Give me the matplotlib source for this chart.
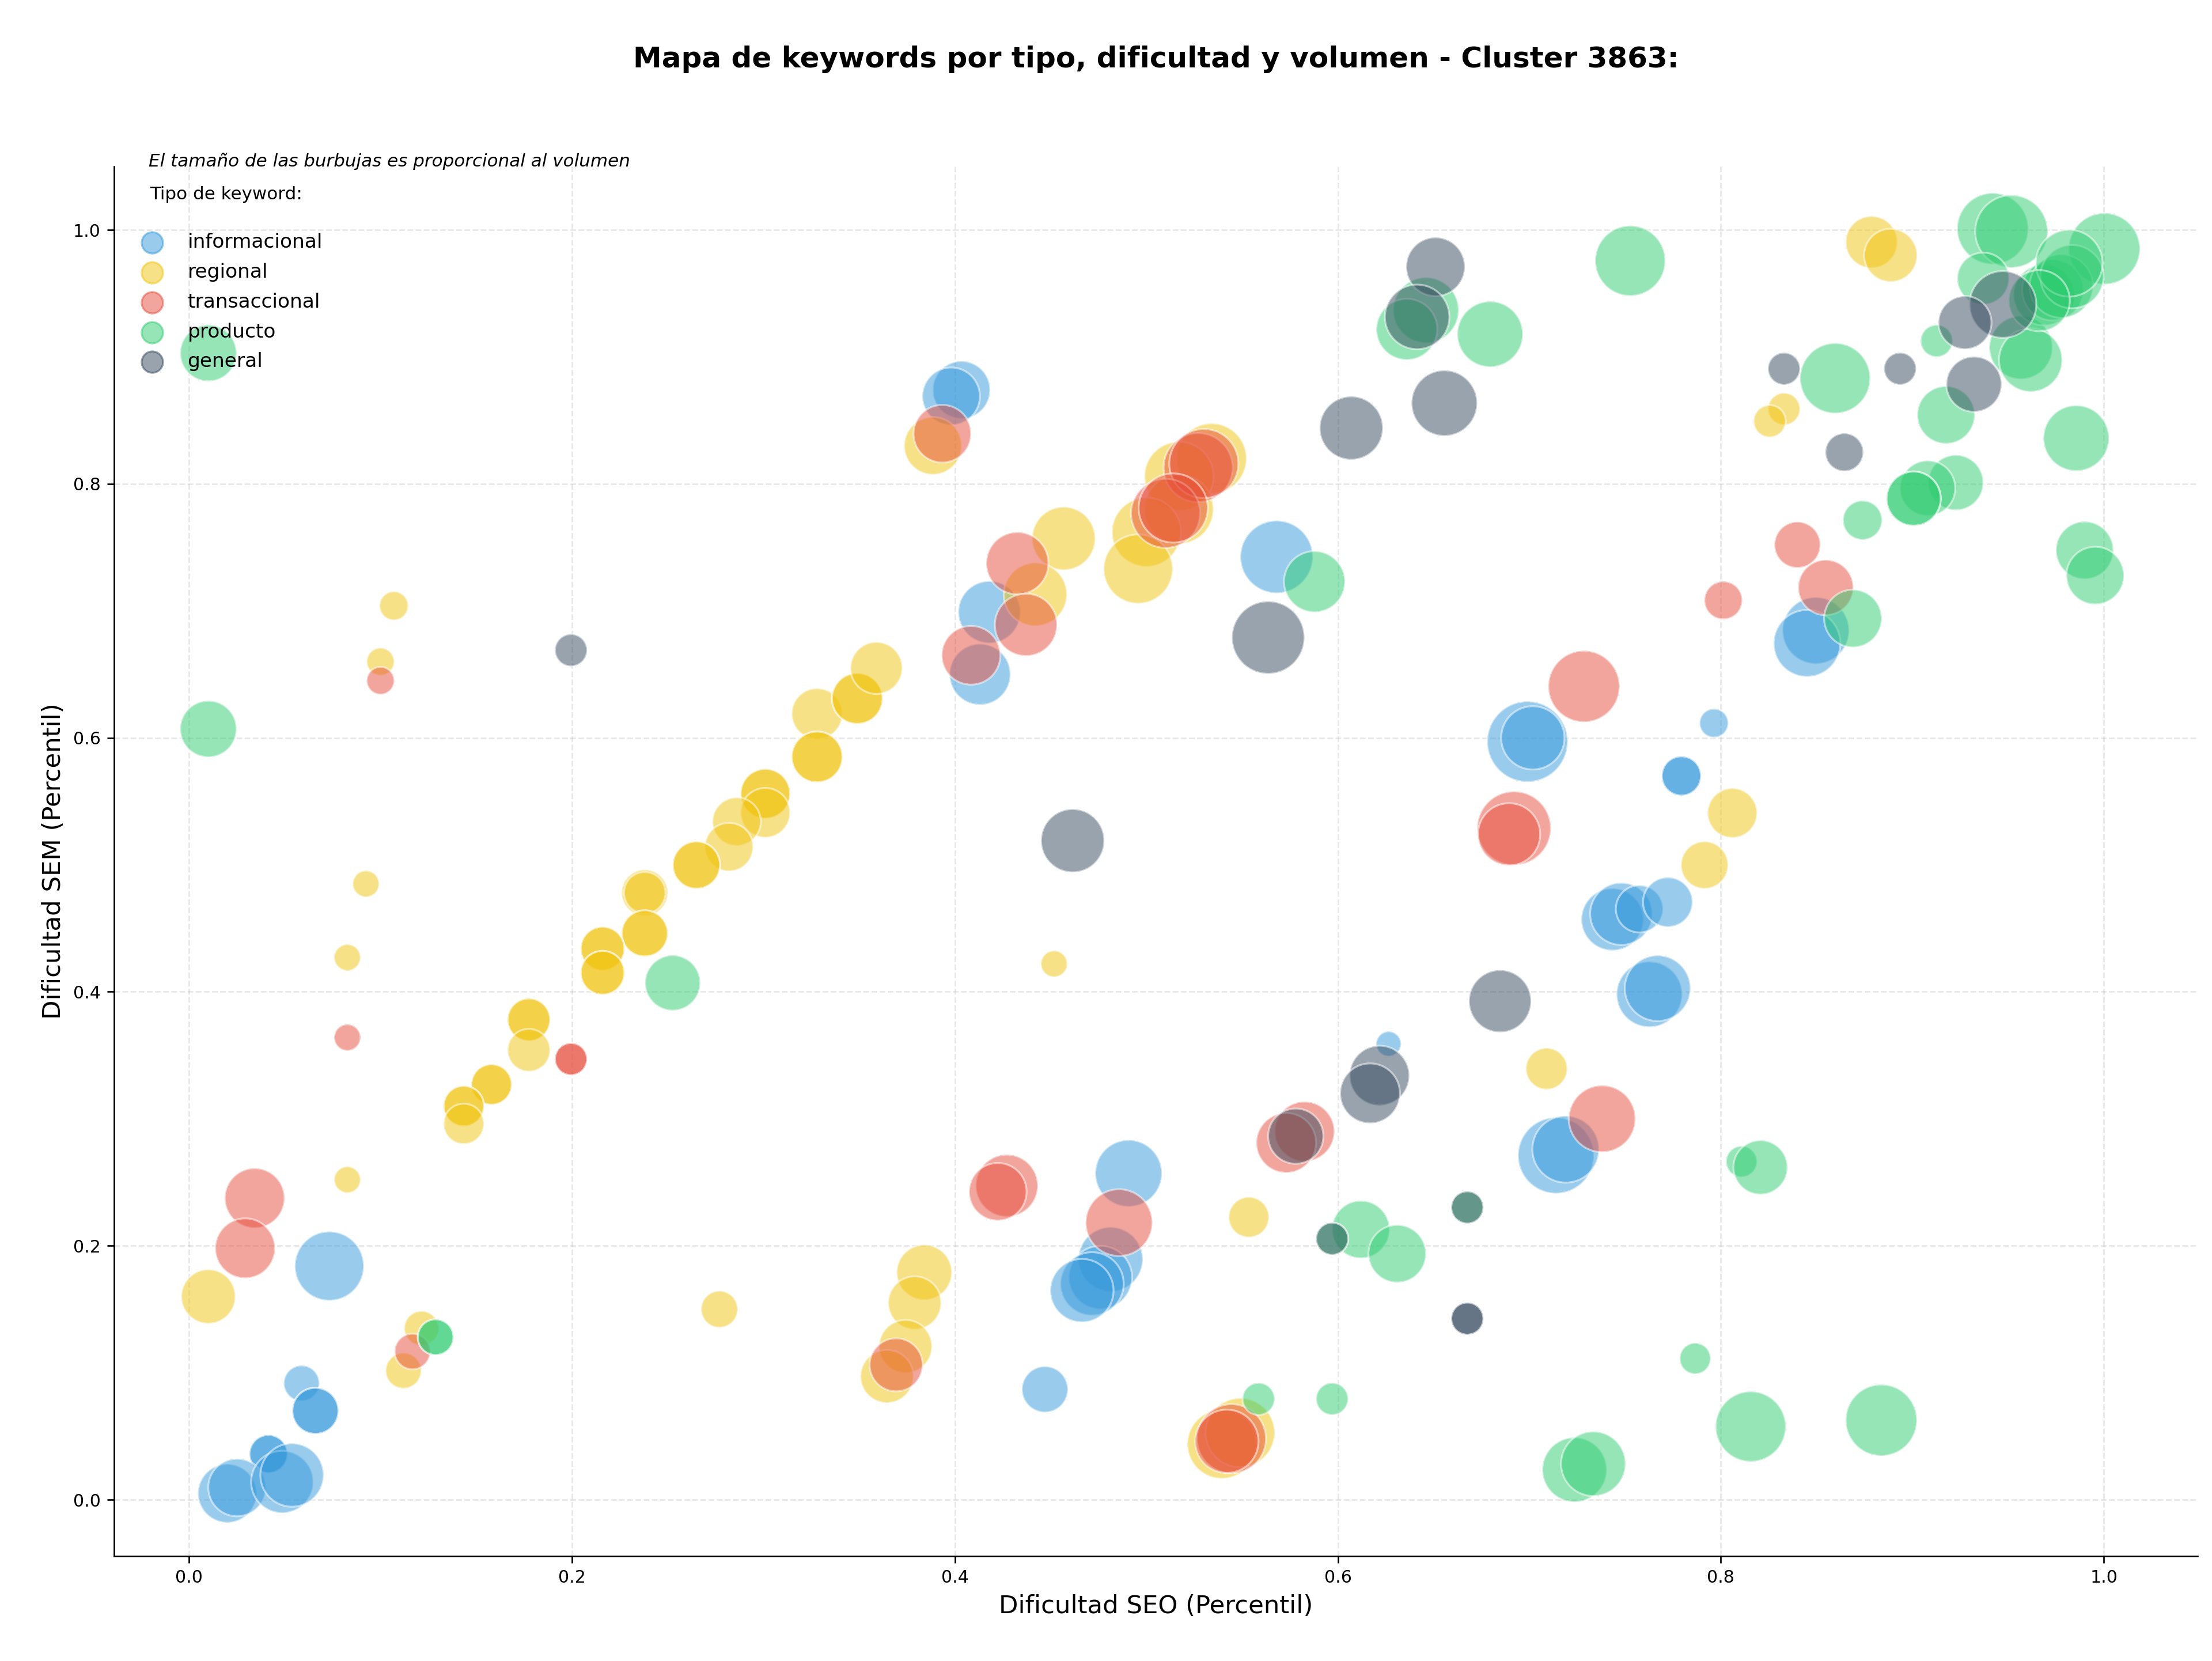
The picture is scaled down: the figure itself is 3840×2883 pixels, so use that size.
import matplotlib
matplotlib.use('Agg')
import matplotlib.pyplot as plt


TITLE = 'Mapa de keywords por tipo, dificultad y volumen - Cluster 3863:'

categorias = ['informacional', 'regional', 'transaccional', 'producto', 'general']
colores = ['#3498db', '#f1c40f', '#e74c3c', '#2ecc71', '#34495e']

# informacional
info_seo = [0.0733, 0.0588, 0.066, 0.066, 0.0415, 0.0415, 0.020, 0.0251, 0.0487, 0.0538,
            0.4034, 0.398, 0.418, 0.4131, 0.568, 0.6265, 0.4907, 0.4813, 0.476, 0.4716,
            0.4663, 0.447, 0.8496, 0.845, 0.699, 0.7018, 0.7964, 0.7794, 0.7794, 0.7434,
            0.748, 0.7575, 0.7723, 0.7627, 0.767, 0.7139, 0.719]
info_sem = [0.184, 0.0917, 0.070, 0.070, 0.036, 0.036, 0.005, 0.0096, 0.014, 0.0194,
            0.874, 0.869, 0.699, 0.650, 0.7425, 0.359, 0.257, 0.1893, 0.175, 0.170,
            0.1647, 0.0869, 0.6845, 0.6744, 0.597, 0.600, 0.6116, 0.570, 0.570, 0.457,
            0.4614, 0.4653, 0.4706, 0.398, 0.4028, 0.2711, 0.276]
info_vol = [3600, 960, 1600, 1600, 1090, 1090, 2600, 2500, 2920, 3020,
            2500, 2500, 2920, 2810, 3970, 470, 3360, 3140, 3020, 3020,
            3020, 1600, 3360, 3360, 4900, 3020, 625, 1160, 1160, 2920,
            2920, 1680, 1850, 3250, 3250, 4360, 3360]

# regional
reg_seo = [0.107, 0.100, 0.328, 0.328, 0.328, 0.349, 0.349, 0.359, 0.301, 0.301,
           0.301, 0.286, 0.282, 0.265, 0.265, 0.238, 0.238, 0.238, 0.238, 0.216,
           0.216, 0.216, 0.216, 0.0924, 0.0827, 0.1775, 0.1775, 0.1775, 0.158, 0.158,
           0.1435, 0.1435, 0.1435, 0.0827, 0.0101, 0.277, 0.1214, 0.112, 0.3885, 0.534,
           0.517, 0.517, 0.500, 0.4957, 0.4568, 0.442, 0.4518, 0.5535, 0.384, 0.379,
           0.3742, 0.3645, 0.5394, 0.549, 0.8787, 0.8887, 0.833, 0.8255, 0.806, 0.7915,
           0.709]
reg_sem = [0.704, 0.660, 0.619, 0.585, 0.585, 0.631, 0.631, 0.655, 0.556, 0.556,
           0.541, 0.534, 0.514, 0.4998, 0.4998, 0.478, 0.478, 0.446, 0.446, 0.434,
           0.434, 0.415, 0.415, 0.485, 0.427, 0.378, 0.378, 0.354, 0.327, 0.327,
           0.310, 0.310, 0.296, 0.252, 0.160, 0.150, 0.135, 0.1016, 0.830, 0.820,
           0.806, 0.780, 0.762, 0.733, 0.757, 0.713, 0.422, 0.2225, 0.179, 0.155,
           0.1207, 0.0971, 0.0438, 0.0528, 0.9904, 0.980, 0.859, 0.8494, 0.5408, 0.4998,
           0.3394]
reg_vol = [625, 576, 1940, 1940, 1940, 1940, 1940, 2030, 1850, 1850,
           1850, 1760, 1760, 1680, 1680, 1600, 1300, 1600, 1600, 1440,
           1440, 1440, 1440, 530, 530, 1370, 1370, 1370, 1230, 1230,
           1230, 1230, 1230, 530, 2210, 1020, 900, 960, 2500, 3720,
           3600, 3600, 3600, 3600, 3020, 3020, 530, 1230, 2300, 2120,
           2120, 2120, 3600, 3600, 2030, 2120, 780, 780, 1850, 1680,
           1300]

# transaccional
tra_seo = [0.100, 0.0827, 0.1995, 0.1995, 0.0343, 0.0293, 0.1167, 0.3934, 0.527, 0.530,
           0.510, 0.514, 0.4326, 0.4371, 0.4084, 0.3693, 0.4271, 0.4224, 0.4857, 0.5826,
           0.573, 0.5444, 0.542, 0.840, 0.8548, 0.8013, 0.7285, 0.692, 0.6894, 0.738]
tra_sem = [0.645, 0.364, 0.347, 0.347, 0.2375, 0.198, 0.1167, 0.8395, 0.8128, 0.816,
           0.7768, 0.781, 0.7375, 0.689, 0.665, 0.1062, 0.2473, 0.2425, 0.2182, 0.290,
           0.281, 0.048, 0.046, 0.752, 0.7184, 0.7083, 0.6405, 0.5288, 0.524, 0.300]
tra_vol = [576, 530, 780, 780, 2700, 2700, 960, 2500, 3600, 3600,
           3600, 3600, 2920, 2920, 2600, 2120, 2920, 2500, 3360, 2700,
           2700, 3600, 3020, 1600, 2300, 1090, 3840, 4100, 2920, 3360]

# producto
pro_seo = [0.0101, 0.0101, 0.2526, 0.1288, 0.1288, 0.5878, 0.646, 0.636, 0.6795, 0.7527,
           0.942, 0.9518, 1.0003, 0.937, 0.9127, 0.9176, 0.9856, 0.9567, 0.9618, 0.9688,
           0.9733, 0.9778, 0.9834, 0.9819, 0.9663, 0.8597, 0.9227, 0.908, 0.9007, 0.9007,
           0.874, 0.869, 0.990, 0.9955, 0.8108, 0.8207, 0.7866, 0.8156, 0.8838, 0.7236,
           0.7334, 0.612, 0.631, 0.5586, 0.597, 0.597, 0.6676]
pro_sem = [0.903, 0.607, 0.407, 0.128, 0.128, 0.723, 0.9368, 0.9217, 0.9179, 0.9757,
           1.001, 0.9988, 0.9852, 0.9617, 0.9126, 0.8543, 0.836, 0.9074, 0.8975, 0.9489,
           0.9527, 0.9557, 0.9632, 0.9738, 0.9443, 0.8832, 0.801, 0.7966, 0.7884, 0.7884,
           0.7714, 0.694, 0.7477, 0.7278, 0.2663, 0.2617, 0.1112, 0.0576, 0.0626, 0.0236,
           0.0283, 0.2128, 0.1937, 0.0794, 0.0794, 0.2055, 0.2302]
pro_vol = [2400, 2400, 2300, 960, 960, 2810, 3250, 2810, 3250, 3720,
           3840, 3970, 3840, 2030, 780, 2500, 3250, 3020, 3020, 2810,
           2810, 3020, 3020, 3360, 2810, 3720, 2300, 2300, 2210, 2210,
           1160, 2500, 2500, 2500, 730, 2210, 730, 3720, 3840, 3140,
           3140, 2500, 2500, 780, 780, 780, 780]

# general
gen_seo = [0.1995, 0.651, 0.6414, 0.6556, 0.607, 0.5636, 0.4615, 0.9473, 0.9275, 0.8936,
           0.833, 0.9322, 0.8645, 0.6847, 0.6217, 0.6168, 0.578, 0.597, 0.6676, 0.6676,
           0.6676]
gen_sem = [0.669, 0.971, 0.9315, 0.8636, 0.844, 0.679, 0.519, 0.9413, 0.927, 0.8907,
           0.8907, 0.8785, 0.8249, 0.3926, 0.334, 0.320, 0.2863, 0.2055, 0.2302, 0.1426,
           0.1426]
gen_vol = [780, 2600, 3140, 3250, 3020, 3970, 3020, 3360, 2120, 780,
           780, 2300, 1090, 2920, 2700, 2700, 2300, 780, 780, 780,
           780]


def main():
    series = [
        (info_seo, info_sem, info_vol),
        (reg_seo, reg_sem, reg_vol),
        (tra_seo, tra_sem, tra_vol),
        (pro_seo, pro_sem, pro_vol),
        (gen_seo, gen_sem, gen_vol),
    ]

    fig = plt.figure(figsize=(16, 12.0125), dpi=240)
    ax = fig.add_axes([0.0516, 0.0631, 0.9419, 0.8367])

    for (seo, sem, vol), color in zip(series, colores):
        sizes = [v * 0.36 for v in vol]
        ax.scatter(seo, sem, s=sizes, c=color, alpha=0.5,
                   edgecolors='white', linewidths=1)

    handles = [ax.scatter([], [], s=123, c=color, alpha=0.5, label=cat)
               for cat, color in zip(categorias, colores)]

    ax.set_xlim(-0.0391, 1.049)
    ax.set_ylim(-0.0445, 1.050)
    ax.set_xticks([0.0, 0.2, 0.4, 0.6, 0.8, 1.0])
    ax.set_yticks([0.0, 0.2, 0.4, 0.6, 0.8, 1.0])
    ax.tick_params(labelsize=9)

    ax.grid(True, linestyle='--', alpha=0.3)
    ax.set_axisbelow(True)
    ax.spines['top'].set_visible(False)
    ax.spines['right'].set_visible(False)

    ax.set_xlabel('Dificultad SEO (Percentil)', fontsize=13)
    ax.set_ylabel('Dificultad SEM (Percentil)', fontsize=13)
    ax.set_title(TITLE, fontsize=15, fontweight='bold', pad=51.6)

    ax.text(0.0165, 1.0, 'El tamaño de las burbujas es proporcional al volumen',
            transform=ax.transAxes, fontsize=9.3, style='italic', va='baseline')
    ax.text(0.0171, 0.980, 'Tipo de keyword:', transform=ax.transAxes,
            fontsize=9.3, va='center')

    ax.legend(handles=handles, loc='upper left', bbox_to_anchor=(0.0086, 0.9523),
              frameon=False, fontsize=10.3, borderpad=0, labelspacing=0.55,
              borderaxespad=0)

    fig.savefig('out.png', dpi=240)


if __name__ == '__main__':
    main()
